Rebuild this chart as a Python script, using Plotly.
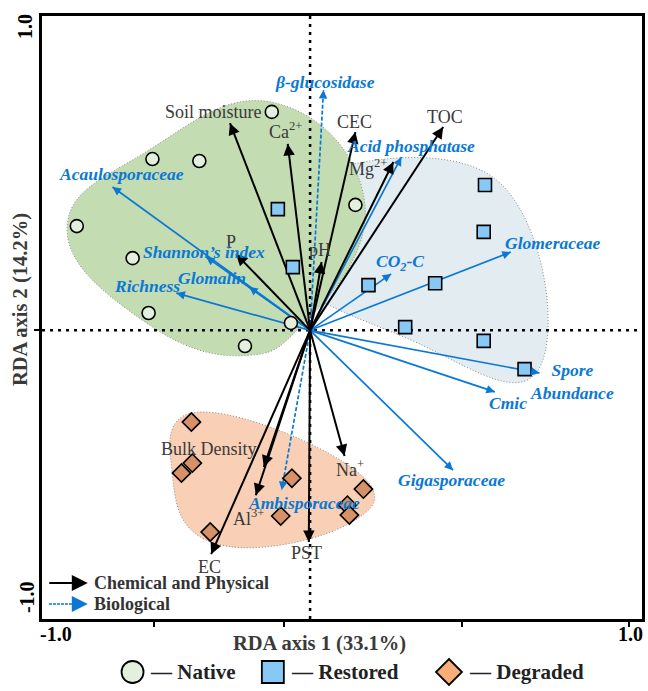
import numpy as np
import plotly.graph_objects as go

# ---------------- data ----------------
# Site scores on RDA axis 1 / RDA axis 2
native_x = [-0.120, -0.494, -0.347, -0.731, -0.556, -0.506, -0.204, -0.060, 0.142]
native_y = [0.681, 0.534, 0.528, 0.325, 0.225, 0.054, -0.049, 0.023, 0.391]

restored_x = [-0.101, -0.054, 0.548, 0.544, 0.183, 0.392, 0.298, 0.544, 0.672]
restored_y = [0.378, 0.197, 0.453, 0.307, 0.141, 0.147, 0.010, -0.033, -0.121]

degraded_x = [-0.372, -0.369, -0.403, -0.057, -0.092, -0.313, 0.167, 0.117, 0.123]
degraded_y = [-0.286, -0.414, -0.445, -0.461, -0.579, -0.629, -0.495, -0.545, -0.576]

# Chemical and physical variables (vector tips)
chem_names = ["Soil moisture", "Ca<sup>2+</sup>", "CEC", "TOC", "Mg<sup>2+</sup>", "P", "pH",
              "Bulk Density", "Al<sup>3+</sup>", "EC", "PST", "Na<sup>+</sup>"]
chem_x = [-0.251, -0.070, 0.142, 0.417, 0.261, -0.232, 0.036, -0.145, -0.170, -0.310, -0.004, 0.108]
chem_y = [0.646, 0.581, 0.618, 0.634, 0.525, 0.238, 0.213, -0.426, -0.514, -0.698, -0.660, -0.392]

# Biological variables (vector tips)
bio_names = ["β-glucosidase", "Acid phosphatase", "Acaulosporaceae", "Shannon’s index", "Glomalin",
             "Richness", "CO<sub>2</sub>-C", "Glomeraceae", "Spore<br>Abundance", "Cmic",
             "Gigasporaceae", "Ambisporaceae"]
bio_x = [0.042, 0.286, -0.619, -0.326, -0.191, -0.419, 0.254, 0.629, 0.719, 0.579, 0.448, -0.089]
bio_y = [0.749, 0.540, 0.447, 0.229, 0.135, 0.116, 0.176, 0.244, -0.133, -0.192, -0.436, -0.498]

axis_end_labels = ["-1.0", "1.0"]
x_title = "RDA axis 1 (33.1%)"
y_title = "RDA axis 2 (14.2%)"
group_names = ["Native", "Restored", "Degraded"]
vector_groups = ["Chemical and Physical", "Biological"]

# ---------------- style ----------------
FONT = "Liberation Serif"
BLUE = "#0a78d4"
TXT = "#3a3a3a"
X_RANGE = [-0.84, 1.04]
Y_RANGE = [-0.90, 0.98]
W, H = 648, 691
ML, MR, MT, MB = 42, 3, 16, 72
PW, PH = W - ML - MR, H - MT - MB

x_tick_vals = [-0.488, -0.082, 0.476, 1.0]
y_tick_vals = [0.0]

dashed_bio = {"β-glucosidase", "Ambisporaceae"}

# label offsets (pixels) relative to each vector tip
chem_shift = [(-16, 11), (-2, 13), (-1, 10), (2, 10), (-25, -6), (-5, 12), (-2, 12),
              (-55, 18), (-7, -22), (-2, -13), (-2, -11), (5, -12)]
bio_shift = [(2, 8), (10, 11), (9, 13), (-2, 5), (-37, 9), (-29, 7), (9, 11), (42, 9),
             (32, -9), (13, -11), (-2, -10), (22, -13)]


def px(xp):
    return (xp - ML) / PW


def py(yp):
    return (MT + PH - yp) / PH


def convex_hull(xs, ys):
    pts = sorted(set(zip(xs, ys)))

    def cross(o, a, b):
        return (a[0] - o[0]) * (b[1] - o[1]) - (a[1] - o[1]) * (b[0] - o[0])

    lower, upper = [], []
    for p in pts:
        while len(lower) >= 2 and cross(lower[-2], lower[-1], p) <= 0:
            lower.pop()
        lower.append(p)
    for p in reversed(pts):
        while len(upper) >= 2 and cross(upper[-2], upper[-1], p) <= 0:
            upper.pop()
        upper.append(p)
    return np.array(lower[:-1] + upper[:-1])


def envelope(xs, ys, pad):
    h = convex_hull(xs, ys)
    c = h.mean(axis=0)
    v = h - c
    h = h + v / np.linalg.norm(v, axis=1, keepdims=True) * pad
    h = np.vstack([h, h[:1]])
    return h[:, 0], h[:, 1]


fig = go.Figure()

# group envelopes
for xs, ys, fillc, pad in [(restored_x, restored_y, "#e3ecf1", 0.035),
                           (native_x, native_y, "#c4dcb1", 0.03),
                           (degraded_x, degraded_y, "#f9d0b6", 0.03)]:
    ex, ey = envelope(xs, ys, pad)
    fig.add_trace(go.Scatter(x=ex, y=ey, mode="lines", fill="toself", fillcolor=fillc,
                             line=dict(color="#8a8a8a", width=1, dash="1px,2px", shape="spline",
                                       smoothing=1.3),
                             hoverinfo="skip", showlegend=False))

# zero lines
fig.add_trace(go.Scatter(x=[0, 0], y=Y_RANGE, mode="lines",
                         line=dict(color="black", width=2.5, dash="3px,5px"),
                         hoverinfo="skip", showlegend=False))
fig.add_trace(go.Scatter(x=X_RANGE, y=[0, 0], mode="lines",
                         line=dict(color="black", width=2.5, dash="3px,5px"),
                         hoverinfo="skip", showlegend=False))

annotations = []


def add_vector(x, y, color, width, dash, head_len, head_size):
    fig.add_trace(go.Scatter(x=[0, x], y=[0, y], mode="lines",
                             line=dict(color=color, width=width, dash=dash),
                             hoverinfo="skip", showlegend=False))
    n = np.hypot(x, y)
    ux, uy = x / n, y / n
    annotations.append(dict(x=x, y=y, xref="x", yref="y", text="", showarrow=True,
                            ax=-ux * head_len, ay=uy * head_len,
                            arrowhead=2, arrowsize=head_size, arrowwidth=width,
                            arrowcolor=color, standoff=0))


for name, x, y in zip(bio_names, bio_x, bio_y):
    add_vector(x, y, BLUE, 1.7, "4px,2px" if name in dashed_bio else "solid", 8, 1.0)
for name, x, y in zip(chem_names, chem_x, chem_y):
    add_vector(x, y, "black", 2.0, "solid", 10, 1.15)

# site markers
fig.add_trace(go.Scatter(x=native_x, y=native_y, mode="markers",
                         marker=dict(symbol="circle", size=13, color="#e4f0de",
                                     line=dict(color="black", width=1.6)),
                         showlegend=False))
fig.add_trace(go.Scatter(x=restored_x, y=restored_y, mode="markers",
                         marker=dict(symbol="square", size=13, color="#87c8f5",
                                     line=dict(color="black", width=1.6)),
                         showlegend=False))
fig.add_trace(go.Scatter(x=degraded_x, y=degraded_y, mode="markers",
                         marker=dict(symbol="diamond", size=14, color="#d69266",
                                     line=dict(color="black", width=1.6)),
                         showlegend=False))

# vector labels
for name, x, y, (dx, dy) in zip(chem_names, chem_x, chem_y, chem_shift):
    annotations.append(dict(x=x, y=y, xref="x", yref="y", text=name, showarrow=False,
                            xshift=dx, yshift=dy, xanchor="center", yanchor="middle",
                            font=dict(family=FONT, size=18, color=TXT)))
for name, x, y, (dx, dy) in zip(bio_names, bio_x, bio_y, bio_shift):
    annotations.append(dict(x=x, y=y, xref="x", yref="y", text=f"<b><i>{name}</i></b>",
                            showarrow=False, xshift=dx, yshift=dy,
                            xanchor="center", yanchor="middle",
                            font=dict(family=FONT, size=17.5, color=BLUE)))


def paper_text(xp, yp, text, font, angle=0, xanchor="center"):
    return dict(x=px(xp), y=py(yp), xref="paper", yref="paper", text=text, showarrow=False,
                textangle=angle, xanchor=xanchor, yanchor="middle", font=font)


# axis end labels and titles
tick_font = dict(family=FONT, size=20, color="black")
title_font = dict(family=FONT, size=20.5, color=TXT)
annotations += [
    paper_text(56, 634, f"<b>{axis_end_labels[0]}</b>", tick_font),
    paper_text(633, 634, f"<b>{axis_end_labels[1]}</b>", tick_font),
    paper_text(25, 27, f"<b>{axis_end_labels[1]}</b>", tick_font, angle=-90),
    paper_text(27, 597, f"<b>{axis_end_labels[0]}</b>", tick_font, angle=-90),
    paper_text(321, 643, f"<b>{x_title}</b>", title_font),
    paper_text(20, 300, f"<b>{y_title}</b>", title_font, angle=-90),
]

# vector-type key inside the plot
key_font = dict(family=FONT, size=18, color="#333333")
annotations += [
    dict(x=px(88), y=py(583), xref="paper", yref="paper", text="", showarrow=True,
         ax=-40, ay=0, arrowhead=2, arrowsize=1.45, arrowwidth=2.2, arrowcolor="black", standoff=0),
    dict(x=px(88), y=py(604), xref="paper", yref="paper", text="", showarrow=True,
         ax=-14, ay=0, arrowhead=2, arrowsize=1.45, arrowwidth=2.2, arrowcolor=BLUE, standoff=0),
    paper_text(92, 583, f"<b>{vector_groups[0]}</b>", key_font, xanchor="left"),
    paper_text(92, 604, f"<b>{vector_groups[1]}</b>", key_font, xanchor="left"),
]

shapes = [
    dict(type="line", xref="paper", yref="paper", x0=px(49), x1=px(80), y0=py(604), y1=py(604),
         line=dict(color=BLUE, width=1.6, dash="3px,1px")),
]

# group key below the plot
leg_y = py(672)
shapes += [
    dict(type="circle", xref="paper", yref="paper", xsizemode="pixel", ysizemode="pixel",
         xanchor=px(133), yanchor=leg_y, x0=-11, x1=11, y0=-11, y1=11,
         fillcolor="#e4f0de", line=dict(color="black", width=1.8)),
    dict(type="rect", xref="paper", yref="paper", xsizemode="pixel", ysizemode="pixel",
         xanchor=px(274), yanchor=leg_y, x0=-11, x1=11, y0=-11, y1=11,
         fillcolor="#87c8f5", line=dict(color="black", width=1.8)),
    dict(type="path", xref="paper", yref="paper", xsizemode="pixel", ysizemode="pixel",
         xanchor=px(451), yanchor=leg_y, path="M0,13 L13,0 L0,-13 L-13,0 Z",
         fillcolor="#f9ad78", line=dict(color="black", width=1.8)),
]
leg_font = dict(family=FONT, size=21, color="#222222")
for name, xl in zip(group_names, [149, 290, 469]):
    annotations.append(paper_text(xl, 672, f"<b>— {name}</b>", leg_font, xanchor="left"))

axis_common = dict(showgrid=False, zeroline=False, showline=True, linecolor="black",
                   linewidth=2.5, mirror=True, ticks="outside", ticklen=5, tickwidth=2,
                   tickcolor="black", showticklabels=False, fixedrange=True)

fig.update_layout(
    width=W, height=H,
    margin=dict(l=ML, r=MR, t=MT, b=MB),
    paper_bgcolor="white", plot_bgcolor="white",
    xaxis=dict(range=X_RANGE, tickvals=x_tick_vals, **axis_common),
    yaxis=dict(range=Y_RANGE, tickvals=y_tick_vals, **axis_common),
    annotations=annotations,
    shapes=shapes,
    showlegend=False,
)

fig.write_html("out.html")
